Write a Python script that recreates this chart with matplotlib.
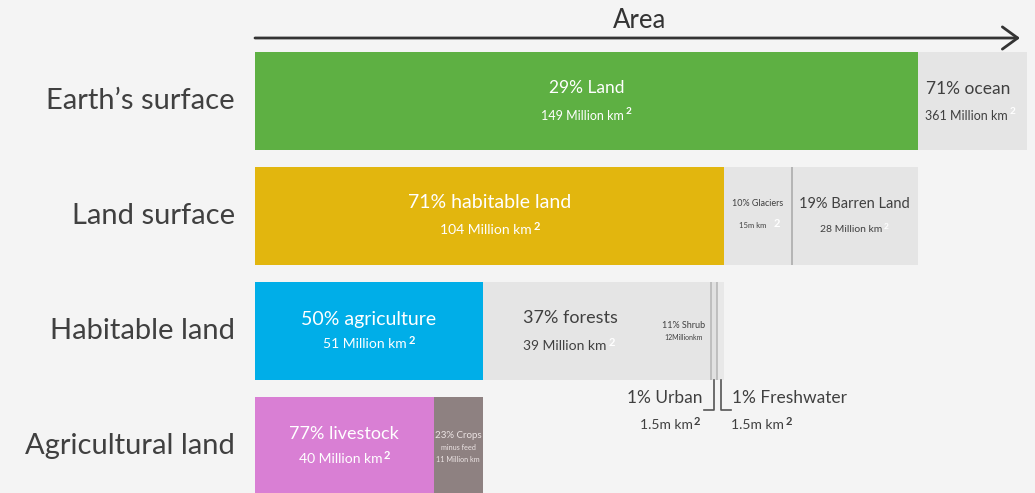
"""
Earth's surface broken down by land use, zooming in one level per row.
"""
import numpy as np
import matplotlib.pyplot as plt

plt.rcParams["font.family"] = ["Lato", "DejaVu Sans"]

# ---- data (million km2) ----
rows = ["Earth’s surface", "Land surface", "Habitable land", "Agricultural land"]
earth_km = [149, 361]
earth_pct = ["29% Land", "71% ocean"]
land_km = [104, 15, 28]
land_pct = ["71% habitable land", "10% Glaciers", "19% Barren Land"]
habitable_km = [51, 39, 12, 1.5, 1.5]
habitable_pct = ["50% agriculture", "37% forests", "11% Shrub", "1% Urban", "1% Freshwater"]
agri_km = [40, 11]
agri_pct = ["77% livestock", "23% Crops"]

BG = "#f4f4f4"
GREY = "#e5e5e5"
TXT = "#404040"

# pixel layout: bars start at x=255, land (149) ends at x=918
px_per_unit = (918 - 255) / earth_km[0]
fig = plt.figure(figsize=(10.35, 4.93), dpi=100, facecolor=BG)
ax = fig.add_axes([0, 0, 1027 / 1035, 1])
ax.set_facecolor(BG)
ax.set_xlim(-255 / px_per_unit, (1027 - 255) / px_per_unit)
row_px = 115
ax.set_ylim((493 - 101) / row_px, -101 / row_px)
ax.axis("off")
H = 98 / row_px


def segments(values, total_width):
    vals = np.asarray(values, float)
    widths = vals * total_width / vals.sum()
    lefts = np.concatenate([[0], np.cumsum(widths)[:-1]])
    return lefts, widths


# nested widths: each row fills the segment above it
l1, w1 = np.array([0.0, earth_km[0]]), np.array(earth_km, float)
l2, w2 = segments(land_km, w1[0])
l3, w3 = segments(habitable_km, w2[0])
l4, w4 = segments(agri_km, w3[0])

ax.barh(0, w1, left=l1, height=H, color=["#5eb043", GREY], linewidth=0)
ax.barh(1, w2, left=l2, height=H, color=["#e2b60e", GREY, GREY], linewidth=0)
ax.barh(2, w3, left=l3, height=H,
        color=["#00aee8", GREY, GREY, "#e1e1e1", "#e8e8e8"], linewidth=0)
ax.barh(3, w4, left=l4, height=H, color=["#d97fd4", "#8e8181"], linewidth=0)

# dividers
ax.vlines(l2[2], 1 - H / 2, 1 + H / 2, color="#b0b0b0", lw=1.3)
ax.vlines(l3[3:], 2 - H / 2, 2 + H / 2, color="#b8b8b8", lw=1.2)

# row labels
for i, name in enumerate(rows):
    ax.annotate(name, (0, i), xytext=(-20, 0), textcoords="offset pixels",
                ha="right", va="center", fontsize=21, color=TXT)

# axis arrow and title
ax.annotate("", xy=(1020 / 1027, -63 / row_px), xycoords=ax.get_yaxis_transform(),
            xytext=(0, -63 / row_px), textcoords="data",
            arrowprops=dict(arrowstyle="->,head_length=0.55,head_width=0.4",
                            color="#333333", lw=2, mutation_scale=20,
                            shrinkA=0, shrinkB=0))
ax.text(640 / 1027, 1 - 20 / 493, "Area", transform=ax.transAxes,
        ha="center", va="center", fontsize=18.5, color="#333333")


def label(x, y, text, dy, size, color, dx=0, ha="center"):
    return ax.annotate(text, (x, y), xytext=(dx, -dy), textcoords="offset pixels",
                       ha=ha, va="center", fontsize=size, color=color)


def sup2(t, size, color):
    ax.annotate("2", xy=(1.02, 1.22), xycoords=t, ha="left", va="top",
                fontsize=size, color=color, fontweight="bold")


def km_label(x, y, text, dy, size, color, sup_color, dx=0):
    t = label(x, y, text, dy, size, color, dx=dx)
    sup2(t, size * 0.8, sup_color)
    return t


def mid(left, width):
    return left + width / 2


W = "white"
# row 1
x = mid(l1[0], w1[0])
label(x, 0, earth_pct[0], -13, 12.5, W)
km_label(x, 0, f"{earth_km[0]} Million km", 15, 9, W, W, dx=-4)
x_ocean = (l1[1] + ax.get_xlim()[1]) / 2
label(x_ocean, 0, earth_pct[1], -12, 12.5, TXT, dx=-4)
km_label(x_ocean, 0, f"{earth_km[1]} Million km", 15, 9, TXT, W, dx=-6)

# row 2
x = mid(l2[0], w2[0])
label(x, 1, land_pct[0], -13, 14, W)
km_label(x, 1, f"{land_km[0]} Million km", 14, 10, W, W, dx=-4)
x = mid(l2[1], w2[1])
label(x, 1, land_pct[1], -13, 6.5, TXT)
t = label(x, 1, f"{land_km[1]}m km", 10, 5.5, TXT, dx=-5)
ax.annotate("2", xy=(1.25, 1.6), xycoords=t, ha="left", va="top",
            fontsize=8, color=W, fontweight="bold")
x = mid(l2[2], w2[2])
label(x, 1, land_pct[2], -12, 10.5, TXT)
km_label(x, 1, f"{land_km[2]} Million km", 13, 7.5, TXT, W, dx=-4)

# row 3
x = mid(l3[0], w3[0])
label(x, 2, habitable_pct[0], -12, 14, W)
km_label(x, 2, f"{habitable_km[0]} Million km", 13, 10, W, W, dx=-4)
x = mid(l3[1], w3[1])
label(x, 2, habitable_pct[1], -13, 13, TXT)
km_label(x, 2, f"{habitable_km[1]} Million km", 15, 10, TXT, W, dx=-5)
x = mid(l3[2], w3[2])
label(x, 2, habitable_pct[2], -6, 6.5, TXT)
label(x, 2, f"{habitable_km[2]}Millionkm", 7, 5, TXT)

# urban / freshwater brackets below the bar
y_bot = 2 + H / 2
y_br = y_bot + 30 / row_px
xu = mid(l3[3], w3[3])
xf = mid(l3[4], w3[4])
arm = 10 / px_per_unit
ax.plot([xu, xu, xu - arm], [y_bot, y_br, y_br], color="#555555", lw=1.2)
ax.plot([xf, xf, xf + arm], [y_bot, y_br, y_br], color="#555555", lw=1.2)
ax.annotate(habitable_pct[3], (xu - arm, y_br), xytext=(-2, 12),
            textcoords="offset pixels", ha="right", va="center",
            fontsize=12.5, color=TXT)
ax.annotate(habitable_pct[4], (xf + arm, y_br), xytext=(1, 12),
            textcoords="offset pixels", ha="left", va="center",
            fontsize=12.5, color=TXT)
t = ax.annotate(f"{habitable_km[3]}m km", (xu, y_br), xytext=(-48, -15),
                textcoords="offset pixels", ha="center", va="center",
                fontsize=10, color=TXT)
sup2(t, 8, TXT)
t = ax.annotate(f"{habitable_km[4]}m km", (xf, y_br), xytext=(37, -15),
                textcoords="offset pixels", ha="center", va="center",
                fontsize=10, color=TXT)
sup2(t, 8, TXT)

# row 4
x = mid(l4[0], w4[0])
label(x, 3, agri_pct[0], -12, 13, W)
km_label(x, 3, f"{agri_km[0]} Million km", 13, 10, W, W, dx=-4)
x = mid(l4[1], w4[1])
crop_col = "#ece4e4"
label(x, 3, agri_pct[1], -11, 7, crop_col)
label(x, 3, "minus feed", 2, 5.2, crop_col)
label(x, 3, f"{agri_km[1]} Million km", 13, 5.2, crop_col)

fig.savefig("out.png", dpi=100, facecolor=BG)
